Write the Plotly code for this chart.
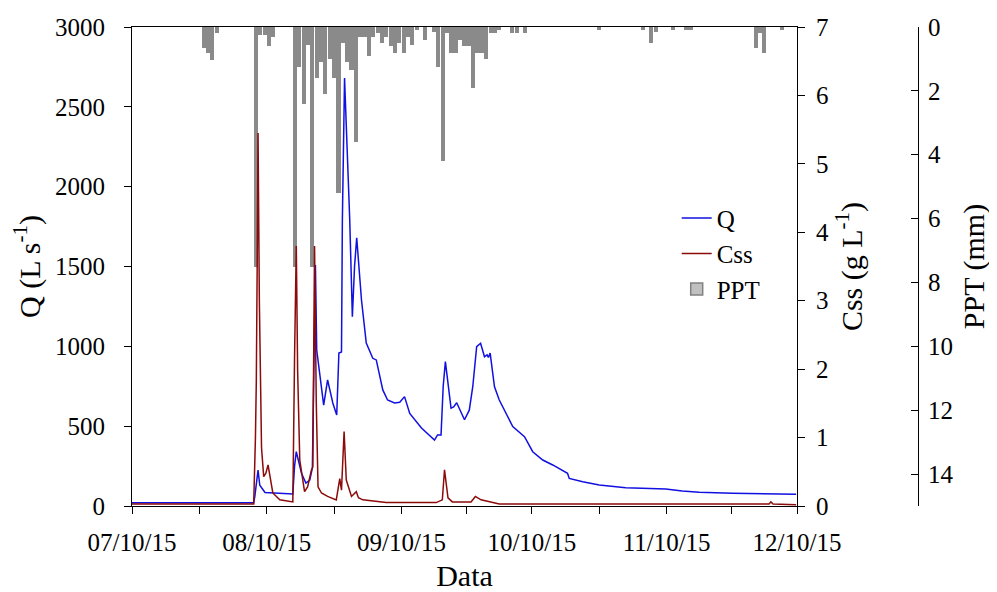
import pandas as pd
import plotly.graph_objects as go

start = pd.Timestamp("2015-07-10")

# Discharge Q (L s-1): time in days since 07/10/15
q_day = [0, 28.0, 28.26, 28.7, 29.0, 29.4, 30.6, 37.0, 37.4, 37.8, 39.0, 40.0, 40.9, 41.5, 41.9, 42.2,
         42.5, 43.2, 44.1, 45.0, 46.2, 47.1, 47.6, 48.2, 48.4, 48.9, 50.1, 50.7, 51.2, 51.7, 52.1, 52.8,
         53.9, 55.4, 56.2, 57.7, 58.8, 60.4, 61.6, 62.3, 62.7, 63.9, 66.6, 69.6, 70.3, 71.1, 71.6, 72.1,
         72.6, 73.4, 74.0, 74.7, 76.5, 77.6, 78.4, 79.3, 80.2, 81.1, 81.7, 82.0, 82.4, 83.4, 84.5, 87.6,
         90.3, 92.2, 94.5, 96.8, 100.2, 100.6, 103.7, 107.5, 113.6, 122.8, 126.6, 130.5, 138.1, 145.8, 152.8]
q_val = [20, 20, 60, 180, 225, 130, 85, 75, 250, 340, 205, 144, 163, 238, 900, 1510,
         977, 810, 632, 790, 645, 570, 958, 965, 1790, 2680, 1790, 1185, 1500, 1680, 1550, 1290,
         1020, 925, 915, 727, 664, 645, 650, 676, 685, 580, 488, 413, 445, 445, 750, 904,
         800, 613, 620, 647, 540, 600, 747, 998, 1019, 935, 946, 930, 958, 747, 664, 497,
         434, 340, 288, 257, 205, 173, 152, 131, 115, 106, 94, 86, 80, 75, 73]

# Suspended sediment concentration Css (g L-1)
c_day = [0, 28.0, 28.4, 28.6, 28.8, 29.0, 29.3, 29.8, 30.3, 30.8, 31.3, 31.7, 32.4, 34.0, 37.0, 37.4,
         37.8, 38.1, 38.6, 39.7, 40.4, 41.3, 41.6, 42.0, 42.4, 42.8, 43.6, 45.0, 47.0, 47.8, 48.2, 48.8,
         49.3, 50.5, 51.6, 52.1, 53.1, 58.5, 70.0, 71.4, 71.9, 72.7, 73.7, 78.0, 79.0, 80.3, 82.2, 84.5,
         146.6, 147.0, 147.5, 152.8]
c_val = [0.03, 0.03, 1.0, 1.82, 3.5, 5.45, 3.0, 0.85, 0.43, 0.48, 0.6, 0.45, 0.19, 0.09, 0.06, 2.18,
         3.8, 2.0, 0.67, 0.21, 0.28, 0.53, 0.57, 3.8, 1.5, 0.28, 0.19, 0.14, 0.09, 0.4, 0.23, 1.09,
         0.38, 0.14, 0.21, 0.12, 0.09, 0.05, 0.05, 0.09, 0.53, 0.12, 0.06, 0.06, 0.14, 0.09, 0.06, 0.03,
         0.03, 0.06, 0.03, 0.02]

# Daily precipitation PPT (mm): day index since 07/10/15
ppt_day = [16, 17, 18, 19, 28, 29, 30, 31, 32, 37, 38, 39, 40, 41, 42, 43, 44, 45, 46, 47, 48, 49, 50,
           51, 52, 53, 54, 55, 56, 57, 58, 59, 60, 61, 62, 63, 64, 65, 67, 69, 70, 71, 72, 73, 74, 75,
           76, 77, 78, 79, 80, 81, 82, 83, 84, 87, 88, 90, 107, 117, 119, 120, 124, 127, 128, 143, 144,
           145, 149]
ppt_mm = [0.66, 0.8, 1.03, 0.2, 7.5, 0.25, 0.25, 0.6, 0.3, 7.5, 1.25, 2.4, 0.55, 7.5, 1.6, 1.1, 2.1,
          1.0, 1.6, 5.2, 0.5, 1.1, 1.35, 3.6, 0.3, 0.3, 0.9, 0.3, 0.2, 0.5, 0.3, 0.6, 0.8, 0.5, 0.8,
          0.3, 0.55, 0.1, 0.4, 0.15, 1.25, 4.2, 0.2, 0.8, 0.8, 0.4, 0.6, 0.6, 1.9, 0.8, 0.8, 1.0, 0.2,
          0.2, 0.1, 0.2, 0.2, 0.2, 0.1, 0.1, 0.5, 0.15, 0.1, 0.1, 0.1, 0.65, 0.2, 0.8, 0.1]

tick_dates = ["2015-07-10", "2015-07-25 12:00", "2015-08-10", "2015-08-25 12:00", "2015-09-10",
              "2015-09-25", "2015-10-10", "2015-10-25 12:00", "2015-11-10", "2015-11-25", "2015-12-10"]
tick_text = ["07/10/15", " ", "08/10/15", " ", "09/10/15", " ", "10/10/15", " ", "11/10/15", " ", "12/10/15"]

q_t = start + pd.to_timedelta(q_day, unit="D")
c_t = start + pd.to_timedelta(c_day, unit="D")
p_t = start + pd.to_timedelta([d + 0.5 for d in ppt_day], unit="D")

fig = go.Figure()
fig.add_trace(go.Bar(x=p_t, y=ppt_mm, name="PPT", yaxis="y", width=0.95 * 86400000,
                     marker=dict(color="#8a8a8a", line=dict(width=0)), showlegend=False))
# legend-only entry for PPT (no marks drawn)
fig.add_trace(go.Bar(x=[None], y=[None], name="PPT", yaxis="y",
                     marker=dict(color="#c0c0c0", line=dict(color="#808080", width=1.5)),
                     legendrank=3))
fig.add_trace(go.Scatter(x=q_t, y=q_val, name="Q", yaxis="y2", mode="lines",
                         line=dict(color="#1010e0", width=1.5), legendrank=1))
fig.add_trace(go.Scatter(x=c_t, y=c_val, name="Css", yaxis="y3", mode="lines",
                         line=dict(color="#8b0a0a", width=1.5), legendrank=2))

FONT = "Liberation Serif"
axis_common = dict(showgrid=False, zeroline=False, showline=True, linecolor="black", linewidth=1.2,
                   tickcolor="black", ticklen=7, tickwidth=1.2, automargin=False)

fig.update_layout(
    width=997, height=592,
    margin=dict(l=124, r=87, t=19, b=94, autoexpand=False),
    paper_bgcolor="white", plot_bgcolor="white",
    font=dict(family=FONT, size=25, color="black"),
    bargap=0, barmode="overlay",
    xaxis=dict(type="date", domain=[0, 665 / 786], range=["2015-07-10", "2015-12-10"],
               tickmode="array", tickvals=tick_dates, ticktext=tick_text, ticks="outside",
               mirror=True, anchor="y", ticklabelstandoff=7,
               title=dict(text="Data", standoff=9), **axis_common),
    yaxis=dict(range=[15, 0], anchor="free", position=1, side="right", ticks="inside",
               tickmode="array", tickvals=[0, 2, 4, 6, 8, 10, 12, 14], ticklabelstandoff=4,
               title=dict(text="PPT (mm)", standoff=10), **axis_common),
    yaxis2=dict(range=[0, 3000], overlaying="y", side="left", anchor="x", ticks="outside",
                tickmode="array", tickvals=[0, 500, 1000, 1500, 2000, 2500, 3000], ticklabelstandoff=14,
                title=dict(text="Q (L s<sup>-1</sup>)", standoff=10), **axis_common),
    yaxis3=dict(range=[0, 7], overlaying="y", side="right", anchor="x", ticks="outside",
                tickmode="array", tickvals=[0, 1, 2, 3, 4, 5, 6, 7], ticklabelstandoff=6,
                title=dict(text="Css (g L<sup>-1</sup>)", standoff=12), **axis_common),
    legend=dict(x=0.693, y=0.649, xanchor="left", yanchor="top", bgcolor="rgba(0,0,0,0)",
                font=dict(family=FONT, size=25), tracegroupgap=0),
    showlegend=True,
)

fig.write_html("out.html")
